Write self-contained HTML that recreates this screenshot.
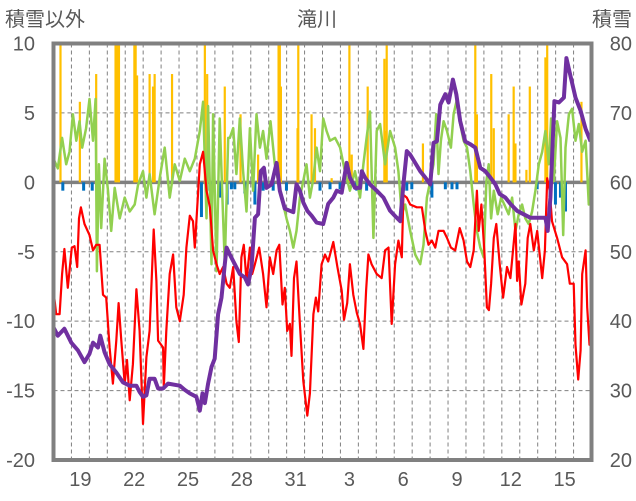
<!DOCTYPE html>
<html><head><meta charset="utf-8"><style>
html,body{margin:0;padding:0;background:#fff;}
svg{display:block;font-family:"Liberation Sans","Noto Sans CJK JP",sans-serif;}
</style></head><body>
<svg id="chart" width="636" height="501" viewBox="0 0 636 501" xmlns="http://www.w3.org/2000/svg">
<text x="5" y="26" font-size="20" fill="#595959">積雪以外</text>
<text x="317" y="26" font-size="20" fill="#595959" text-anchor="middle">滝川</text>
<text x="632" y="26" font-size="20" fill="#595959" text-anchor="end">積雪</text>
<g id="grid"></g>
<g id="bars"></g>
<g id="lines"></g>
<g id="frame"></g>
<g id="axes"></g>
</svg>
<script>
const leftTicks=[10,5,0,-5,-10,-15,-20];
const rightTicks=[80,70,60,50,40,30,20];
const dayLabels=["19","22","25","28","31","3","6","9","12","15"];
const dayLabelPos=[1,4,7,10,13,16,19,22,25,28];
const redT=[0,.15,.34,.48,.61,.8,1.02,1.17,1.32,1.42,1.53,1.73,2.01,2.2,2.38,2.57,2.76,2.94,3.13,3.31,3.5,3.63,3.78,3.97,4.1,4.25,4.43,4.62,4.8,4.99,5.18,5.36,5.59,5.74,5.83,6.11,6.15,6.29,6.48,6.67,6.85,7.04,7.26,7.41,7.6,7.78,7.88,7.97,8.16,8.34,8.53,8.72,8.9,9.09,9.27,9.46,9.65,
9.83,10.02,10.20,10.33,10.48,10.61,10.76,10.95,11.08,11.23,11.47,11.69,11.88,12.06,12.25,12.44,12.59,12.77,12.90,13.03,13.18,13.27,13.41,13.55,13.74,13.93,14.15,14.30,14.49,14.63,14.76,14.95,15.14,15.32,15.60,15.83,16.07,16.20,16.38,16.53,16.72,16.91,17.09,17.28,17.43,17.56,17.74,18.02,18.30,18.49,18.68,18.86,19.05,19.23,19.42,19.51,19.70,
19.89,20.26,20.54,20.73,20.91,21.10,21.29,21.47,21.75,21.94,22.16,22.40,22.65,22.87,23.06,23.24,23.43,23.61,23.71,23.86,24.02,24.17,24.28,24.40,24.55,24.69,24.88,25.07,25.29,25.48,25.76,25.85,25.94,26.09,26.31,26.44,26.59,26.78,26.97,27.25,27.40,27.53,27.67,27.80,28.08,28.36,28.64,28.79,29.01,29.11,29.26,29.39,29.48,29.67,29.76,29.89,29.98];
const redV=[-7.8,-9.5,-9.5,-6.6,-4.8,-7.6,-4.7,-4.6,-6.1,-2.6,-1.8,-3.0,-3.8,-4.9,-4.5,-4.5,-8.1,-8.3,-11.9,-14.5,-11.4,-8.7,-11.4,-14.5,-12.8,-15.7,-13.1,-7.7,-10.7,-17.4,-12.6,-10.7,-3.4,-7.1,-11.4,-11.9,-14.8,-10.7,-6.6,-5.2,-9.0,-10.0,-8.1,-4.7,-2.4,-2.8,-4.7,-2.8,1.3,2.2,-0.6,-1.8,-4.9,-5.9,-6.6,-6.1,-7.3,
-7.6,-6.1,-10.0,-11.5,-5.4,-4.5,-7.1,-4.7,-6.6,-5.9,-4.7,-6.6,-9.0,-5.4,-6.6,-4.9,-4.5,-8.8,-7.6,-10.7,-10.2,-12.5,-6.9,-5.7,-10.2,-14.3,-16.8,-15.2,-9.5,-8.3,-9.3,-5.9,-5.2,-5.7,-4.3,-6.1,-7.8,-9.9,-8.7,-5.9,-8.1,-9.4,-10.2,-12.0,-7.8,-5.2,-5.9,-6.6,-6.9,-4.9,-4.7,-10.2,-5.9,-4.2,-5.4,-0.9,-1.1,
-1.6,-1.8,-1.8,-3.5,-4.5,-4.2,-4.7,-3.5,-3.5,-4.0,-4.7,-4.9,-3.3,-4.2,-5.7,-6.1,-4.9,-0.6,-3.5,-1.6,-4.9,-9.0,-9.2,-7.3,-4.0,-3.0,-5.9,-8.3,-6.1,-6.9,-3.0,-7.1,-5.7,-8.8,-7.3,-4.0,-3.0,-4.9,-3.5,-6.9,-4.9,0.3,-0.6,-2.8,-4.0,-5.4,-5.9,-7.3,-7.3,-11.7,-14.2,-12.1,-6.6,-4.9,-9.0,-11.7,-11.2];
const greenT=[0,.24,.48,.71,.89,1.08,1.27,1.45,1.6,1.82,2.01,2.2,2.35,2.42,2.53,2.66,2.85,3.04,3.22,3.41,3.69,3.97,4.25,4.53,4.71,4.99,5.18,5.36,5.64,5.92,6.2,6.48,6.76,7.04,7.32,7.6,7.88,8.16,8.34,8.53,8.62,8.81,8.9,9.09,9.27,9.42,9.55,9.74,
9.83,10.02,10.20,10.39,10.57,10.76,10.95,11.13,11.32,11.51,11.69,11.88,12.10,12.34,12.53,12.72,12.99,13.18,13.37,13.55,13.74,13.93,14.11,14.30,14.49,14.67,14.86,15.04,15.23,15.42,15.70,15.98,16.25,16.53,16.81,17.09,17.28,17.46,17.65,17.84,18.02,18.21,18.49,18.77,19.05,19.23,19.42,19.61,
19.89,20.17,20.45,20.63,20.82,21.01,21.19,21.34,21.47,21.60,21.75,21.94,22.16,22.31,22.50,22.68,22.87,23.06,23.24,23.43,23.61,23.80,23.99,24.14,24.27,24.40,24.55,24.77,24.96,25.14,25.38,25.57,25.76,25.94,26.13,26.31,26.50,26.69,26.87,27.06,27.25,27.43,27.62,27.75,27.90,28.08,28.27,28.42,28.55,28.74,28.92,29.11,29.29,29.48,29.67,29.85,29.98];
const greenV=[1.7,1.0,3.2,1.3,2.2,4.9,3.0,4.4,2.5,3.9,6.0,3.0,6.0,-6.4,1.3,-3.3,1.7,-0.6,-3.5,-0.4,-2.6,-1.1,-2.1,-1.6,-0.2,0.8,-1.1,0.6,-2.3,0.3,2.5,-1.1,1.3,0.1,1.7,0.8,1.7,3.7,5.8,-2.6,5.5,-5.9,4.9,-6.4,4.6,-1.1,-5.9,3.2,
3.2,3.9,0.6,4.6,0.8,-2.1,3.9,-0.6,4.9,2.5,3.7,1.7,4.4,1.3,0.1,-1.1,-2.6,-3.5,-4.7,-3.5,-1.1,0.1,1.3,-1.1,0.3,2.5,0.8,4.6,3.7,3.0,3.2,2.5,0.8,-0.6,0.8,-1.1,1.3,3.2,5.1,-4.0,3.7,4.2,1.3,3.7,2.5,0.8,-2.3,-1.6,
-3.5,-5.2,-5.9,-4.5,-1.1,0.1,1.3,4.9,0.6,3.0,4.4,3.7,2.5,4.9,6.0,4.2,3.0,2.5,0.8,-1.6,-3.5,-4.7,-5.4,0.1,1.3,-2.6,-0.6,-2.3,-1.1,-1.6,-2.3,-1.1,-3.5,-2.3,-1.6,-2.6,-3.0,-2.1,-0.6,1.3,2.2,3.7,1.3,4.6,0.1,4.4,3.2,-3.8,2.5,4.9,5.3,3.0,4.2,2.2,3.0,-1.6,1.7];
const snowT=[0,.24,.61,.99,1.36,1.73,2.01,2.2,2.48,2.61,2.85,3.13,3.5,3.87,4.25,4.62,4.8,4.99,5.18,5.36,5.64,5.83,6.11,6.39,7.04,7.32,7.6,7.97,8.16,8.31,8.44,8.62,8.81,8.99,9.18,9.37,9.55,9.65,
9.83,10.11,10.39,10.67,10.85,11.04,11.23,11.41,11.56,11.73,11.88,12.16,12.44,12.62,12.9,13.18,13.37,13.55,13.74,13.93,14.15,14.39,14.67,15.04,15.32,15.6,15.79,16.07,16.35,16.53,16.81,17.09,17.19,17.37,17.65,18.02,18.4,18.77,19.14,19.33,19.51,19.7,
19.89,20.17,20.45,20.73,21.01,21.19,21.38,21.57,21.85,22.03,22.27,22.46,22.68,22.96,23.24,23.52,23.8,24.08,24.36,24.64,24.88,25.2,25.48,25.85,26.22,26.59,27.43,27.56,27.71,27.93,28.18,28.46,28.6,28.83,29.11,29.39,29.67,29.95];
const snowV=[39.1,37.9,38.9,36.9,35.8,34.1,35.3,36.9,36.2,37.9,35.5,33.8,32.6,31.2,30.7,30.7,29.8,29.1,29.3,31.7,31.7,30.3,30.3,31.0,30.7,30.1,29.6,29.1,27.1,29.6,28.2,31.0,33.4,34.6,41.0,43.4,48.2,50.6,
49.6,48.2,46.8,46.3,45.3,47.7,54.9,55.4,61.6,62.1,59.2,59.7,62.8,58.8,56.2,55.9,55.7,59.7,58.8,57.1,55.9,55.2,54.2,54.0,56.9,57.8,58.8,58.5,62.8,60.7,59.2,59.2,61.6,60.7,59.7,58.8,57.8,55.9,54.9,54.4,59.7,64.5,
64.0,62.8,61.6,60.7,59.7,65.7,65.9,71.2,72.7,71.5,74.8,72.7,68.8,65.9,65.5,65.0,62.1,61.6,60.7,59.7,58.3,57.8,56.9,55.9,55.4,54.9,54.9,53.0,57.8,71.7,71.5,72.2,77.9,75.3,72.2,70.3,67.7,65.9];
const snowfallT=[.39,1.47,2.38,3.46,3.56,3.65,4.51,4.58,4.66,5.36,5.55,5.64,6.61,8.44,8.57,9.55,10.43,11.41,12.55,12.62,12.68,13.61,13.65,14.39,14.58,15.51,16.5,16.63,17.52,18.45,18.51,18.58,20.6,23.52,23.61,24.41,24.55,25.38,25.66,25.76,26.37,26.56,27.43,27.53,29.44];
const snowfallV=[10,5.8,7.8,10,10,10,10,10,7.7,7.8,6.9,7.8,7.8,10,7.8,6.9,4.9,2.0,10,10,6.9,3.9,10,4.9,3.9,0.3,10,2.0,6.9,8.9,3.7,10,2.8,10,4.9,7.8,3.9,4.9,6.9,2.8,0.9,6.9,9.0,10,5.8];
const snowChangeT=[.52,1.68,2.16,8.25,8.72,9.27,9.68,9.92,10.11,10.67,11.23,11.69,12.25,12.99,14.86,15.42,15.98,16.91,17.46,19.51,19.7,19.98,21.1,21.85,22.22,22.5,26.97,27.99,28.27,28.55];
const snowChangeV=[-0.6,-0.6,-0.6,-2.5,-0.6,-1.1,-1.6,-0.5,-0.5,-0.8,-1.6,-0.6,-0.6,-0.6,-0.6,-0.5,-0.5,-0.6,-0.6,-0.6,-0.6,-0.5,-1.1,-0.5,-0.5,-0.5,-0.5,-1.6,-1.1,-2.1];

const X0=53.5,X1=591.5,Y0=43.5,Y1=460,DAYS=30;
const ns="http://www.w3.org/2000/svg";
function xs(t){return X0+(X1-X0)*t/DAYS;}
function yl(v){return Y0+(10-v)*(Y1-Y0)/30;}
function yr(v){return Y0+(80-v)*(Y1-Y0)/60;}
function mk(tag,attrs,parent){const e=document.createElementNS(ns,tag);for(const k in attrs)e.setAttribute(k,attrs[k]);parent.appendChild(e);return e;}
const grid=document.getElementById('grid'),bars=document.getElementById('bars'),lines=document.getElementById('lines'),frame=document.getElementById('frame'),axes=document.getElementById('axes');
for(let d=1;d<DAYS;d++){
  const l=mk('line',{x1:xs(d),x2:xs(d),y1:Y0,y2:Y1,stroke:'#808080','stroke-width':1,'stroke-dasharray':'4,3'},grid);
  
  
}
leftTicks.forEach(v=>{
  if(v!==10&&v!==-20&&v!==0){
    const l=mk('line',{x1:X0,x2:X1,y1:yl(v),y2:yl(v),stroke:'#808080','stroke-width':1,'stroke-dasharray':'4,3'},grid);
    
    
  }
  const t=mk('text',{x:35,y:yl(v)+7,'font-size':20,fill:'#595959','text-anchor':'end'},axes);
  t.textContent=v;
  
  
});
rightTicks.forEach(v=>{
  const t=mk('text',{x:632,y:yr(v)+7,'font-size':20,fill:'#595959','text-anchor':'end'},axes);
  t.textContent=v;
  
  
});
dayLabels.forEach((s,i)=>{
  const t=mk('text',{x:xs(dayLabelPos[i]+0.5),y:486,'font-size':20,fill:'#595959','text-anchor':'middle'},axes);
  t.textContent=s;
  
  
});
snowfallT.forEach((t,i)=>{
  const y=yl(snowfallV[i]);
  const r=mk('rect',{x:xs(t)-1.1,y:y,width:2.2,height:yl(0)-y,fill:'#FFC000'},bars);
  
  
});
snowChangeT.forEach((t,i)=>{
  const y=yl(snowChangeV[i]);
  const r=mk('rect',{x:xs(t)-1.5,y:yl(0),width:3,height:y-yl(0),fill:'#0070C0'},bars);
  
  
});
const z=mk('line',{x1:X0,x2:X1,y1:yl(0),y2:yl(0),stroke:'#808080','stroke-width':3.5},grid);


function path(T,V,fy,color,w,name){
  const d=T.map((t,i)=>(i?'L':'M')+xs(t).toFixed(1)+','+fy(V[i]).toFixed(1)).join('');
  const p=mk('path',{d:d,fill:'none',stroke:color,'stroke-width':w,'stroke-linejoin':'round'},lines);
  
  
}
path(greenT,greenV,yl,'#92D050',2.5,'max-temp-line');
path(redT,redV,yl,'#FF0000',2.2,'min-temp-line');
path(snowT,snowV,yr,'#7030A0',4,'snow-depth-line');
const fr=mk('rect',{x:X0,y:Y0,width:X1-X0,height:Y1-Y0,fill:'none',stroke:'#808080','stroke-width':4},frame);


</script>
</body></html>
